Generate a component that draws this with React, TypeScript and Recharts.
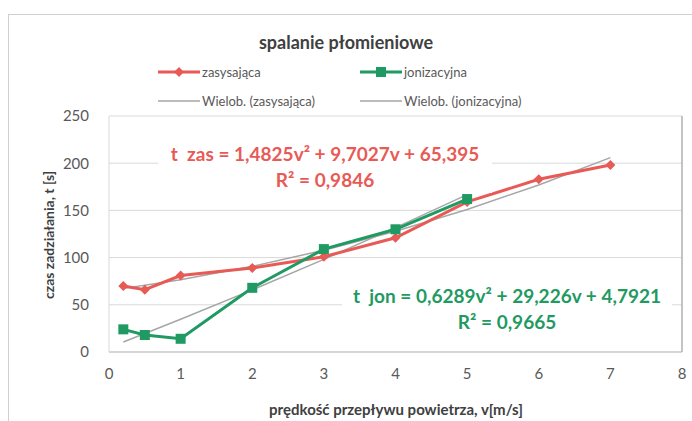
import React from "react";
import { ComposedChart, Line, XAxis, YAxis, CartesianGrid } from "recharts";

const speedZas = [0.2, 0.5, 1, 2, 3, 4, 5, 6, 7];
const timeZas = [70, 66, 81, 89, 101, 121, 159, 183, 198];
const speedJon = [0.2, 0.5, 1, 2, 3, 4, 5];
const timeJon = [24, 18, 14, 68, 109, 130, 162];

// polynomial trend coefficients [a, b, c] for a*v^2 + b*v + c
const coefZas = [1.4825, 9.7027, 65.395];
const coefJon = [0.6289, 29.226, 4.7921];
const r2Zas = "0,9846";
const r2Jon = "0,9665";

const xTicks = [0, 1, 2, 3, 4, 5, 6, 7, 8];
const yTicks = [0, 50, 100, 150, 200, 250];

const RED = "#e85a56";
const GREEN = "#1f9a62";
const TREND = "#a6a6a6";
const FONT = "Lato, 'Open Sans', sans-serif";

const toPoints = (xs: number[], ys: number[]) => xs.map((x, i) => ({ x, y: ys[i] }));
const trend = (xs: number[], c: number[]) =>
  xs.map((x) => ({ x, y: c[0] * x * x + c[1] * x + c[2] }));
const fmt = (n: number) => String(n).replace(".", ",");

const zasData = toPoints(speedZas, timeZas);
const jonData = toPoints(speedJon, timeJon);
const zasTrend = trend(speedZas, coefZas);
const jonTrend = trend(speedJon, coefJon);

const Diamond = (props: any) => {
  const { cx, cy } = props;
  if (cx == null || cy == null) return null;
  return <path d={`M${cx},${cy - 5}L${cx + 5},${cy}L${cx},${cy + 5}L${cx - 5},${cy}Z`} fill={RED} />;
};

const Square = (props: any) => {
  const { cx, cy } = props;
  if (cx == null || cy == null) return null;
  return <rect x={cx - 5} y={cy - 5} width={10} height={10} fill={GREEN} />;
};

const tickStyle = { fill: "#595959", fontSize: 15, fontFamily: FONT };

function LegendItem({ color, label, marker, thin }: { color: string; label: string; marker?: "d" | "s"; thin?: boolean }) {
  return (
    <div style={{ display: "flex", alignItems: "center" }}>
      <svg width={42} height={12}>
        <line x1={0} y1={6} x2={42} y2={6} stroke={color} strokeWidth={thin ? 1.5 : 3} />
        {marker === "d" && <path d="M21,1L26,6L21,11L16,6Z" fill={color} />}
        {marker === "s" && <rect x={16} y={1} width={10} height={10} fill={color} />}
      </svg>
      <span style={{ marginLeft: 2 }}>{label}</span>
    </div>
  );
}

export default function App() {
  return (
    <div style={{ position: "absolute", left: 0, top: 0, width: 692, height: 421, overflow: "hidden", background: "#fff", fontFamily: FONT }}>
      <div style={{ position: "absolute", left: 8, top: 14, width: 700, height: 420, border: "1px solid #d0d0d0" }} />
      <div style={{ position: "absolute", left: 0, width: 692, top: 31, textAlign: "center", fontSize: 18, fontWeight: 700, color: "#404040" }}>
        spalanie płomieniowe
      </div>
      <div style={{ position: "absolute", left: 158, top: 64, fontSize: 13, color: "#595959" }}>
        <LegendItem color={RED} label="zasysająca" marker="d" />
      </div>
      <div style={{ position: "absolute", left: 360, top: 64, fontSize: 13, color: "#595959" }}>
        <LegendItem color={GREEN} label="jonizacyjna" marker="s" />
      </div>
      <div style={{ position: "absolute", left: 158, top: 93, fontSize: 13, color: "#595959" }}>
        <LegendItem color={TREND} label="Wielob. (zasysająca)" thin />
      </div>
      <div style={{ position: "absolute", left: 360, top: 93, fontSize: 13, color: "#595959" }}>
        <LegendItem color={TREND} label="Wielob. (jonizacyjna)" thin />
      </div>

      <div style={{ position: "absolute", left: 0, top: 0 }}>
        <ComposedChart width={692} height={421} margin={{ top: 116, right: 9, bottom: 39, left: 49 }}>
          <CartesianGrid horizontal vertical={false} stroke="#d9d9d9" />
          <XAxis
            type="number"
            dataKey="x"
            domain={[0, 8]}
            ticks={xTicks}
            tick={tickStyle}
            tickLine={false}
            axisLine={{ stroke: "#bfbfbf" }}
            height={30}
            tickMargin={10}
          />
          <YAxis
            type="number"
            dataKey="y"
            domain={[0, 250]}
            ticks={yTicks}
            tick={tickStyle}
            tickLine={false}
            axisLine={{ stroke: "#d9d9d9" }}
            width={60}
            tickMargin={14}
          />
          {/* plain right-hand frame of the plot area */}
          <YAxis
            yAxisId="frame"
            orientation="right"
            domain={[0, 250]}
            tick={false}
            tickLine={false}
            axisLine={{ stroke: "#b0b0b0", strokeWidth: 1.5 }}
            width={1}
          />
          <Line data={zasTrend} dataKey="y" type="linear" stroke={TREND} strokeWidth={1.5} dot={false} isAnimationActive={false} />
          <Line data={jonTrend} dataKey="y" type="linear" stroke={TREND} strokeWidth={1.5} dot={false} isAnimationActive={false} />
          <Line data={zasData} dataKey="y" type="linear" stroke={RED} strokeWidth={3} dot={<Diamond />} isAnimationActive={false} />
          <Line data={jonData} dataKey="y" type="linear" stroke={GREEN} strokeWidth={3} dot={<Square />} isAnimationActive={false} />
        </ComposedChart>
      </div>

      <div style={{ position: "absolute", left: 12, top: 235, width: 0, height: 0 }}>
        <div style={{ position: "absolute", transform: "translate(-50%, -50%) rotate(-90deg)", left: 36, whiteSpace: "nowrap", fontSize: 14, fontWeight: 700, color: "#404040" }}>
          czas zadziałania, t [s]
        </div>
      </div>
      <div style={{ position: "absolute", left: 109, width: 574, top: 400, textAlign: "center", fontSize: 15, fontWeight: 700, color: "#404040" }}>
        prędkość przepływu powietrza, v[m/s]
      </div>

      <div style={{ position: "absolute", left: 158, top: 141, width: 334, textAlign: "center", fontSize: 19, fontWeight: 700, color: RED, lineHeight: "26px", background: "#fff" }}>
        <div>t&nbsp; zas = {fmt(coefZas[0])}v² + {fmt(coefZas[1])}v + {fmt(coefZas[2])}</div>
        <div>R² = {r2Zas}</div>
      </div>
      <div style={{ position: "absolute", left: 342, top: 283, width: 330, textAlign: "center", fontSize: 19, fontWeight: 700, color: GREEN, lineHeight: "26px", background: "#fff" }}>
        <div>t&nbsp; jon = {fmt(coefJon[0])}v² + {fmt(coefJon[1])}v + {fmt(coefJon[2])}</div>
        <div>R² = {r2Jon}</div>
      </div>
    </div>
  );
}
